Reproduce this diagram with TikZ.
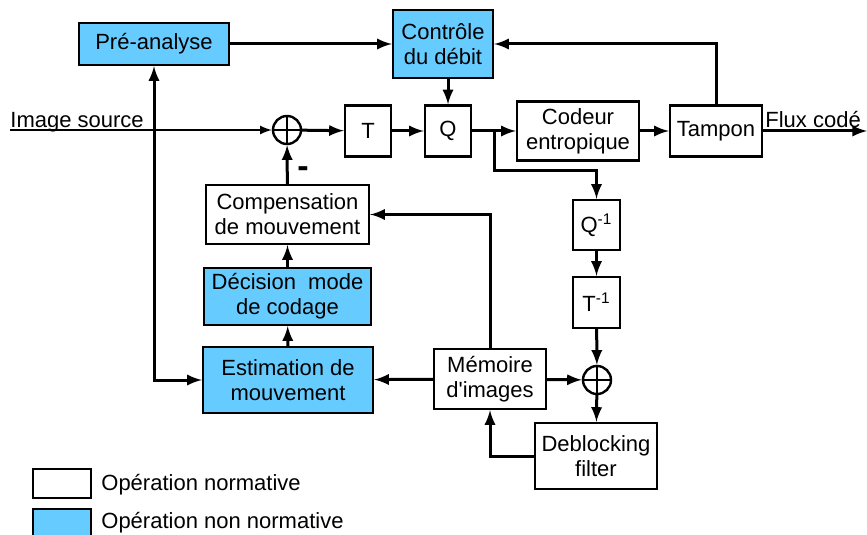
\documentclass[tikz,border=0pt]{standalone}
\usepackage{fontspec}
\setmainfont{Liberation Sans}
\usepackage{xcolor}
\usepackage{tikz}
\usetikzlibrary{arrows,calc}

\definecolor{bleu}{HTML}{66CCFF}

\tikzset{
 norm/.style = {draw, line width = 1.2pt, fill = white, align = center, inner sep = 0pt},
 nonnorm/.style = {norm, fill = bleu},
 somme/.style = {draw, circle, line width = 1.2pt, minimum size = 14pt, inner sep = 0pt,
  path picture = {\draw[line width = 1pt]
   (path picture bounding box.north) -- (path picture bounding box.south)
   (path picture bounding box.west) -- (path picture bounding box.east);}},
 fleche/.style = {-latex, line width = 1.5pt}
}

\begin{document}
\begin{tikzpicture}[x = 0.5pt, y = -0.5pt, font = \fontsize{11}{12.5}\selectfont]

\useasboundingbox (0,0) rectangle (867,535);

\node[nonnorm, minimum width = 75pt, minimum height = 21pt] (pre) at (154,44) {Pré-analyse};
\node[nonnorm, minimum width = 50pt, minimum height = 34pt] (ctrl) at (443,44) {Contrôle\\du débit};

\node[somme] (s1) at (287,130) {};
\node[norm, minimum width = 23pt, minimum height = 25.5pt] (T) at (368,131) {T};
\node[norm, minimum width = 23pt, minimum height = 25.5pt] (Q) at (448,131) {Q};
\node[norm, minimum width = 61pt, minimum height = 29.5pt] (cod) at (578,131) {Codeur\\entropique};
\node[norm, minimum width = 46pt, minimum height = 25.5pt] (tamp) at (716,131) {Tampon};

\node[norm, minimum width = 81.5pt, minimum height = 29.5pt] (comp) at (287.5,214.5) {Compensation\\de mouvement};
\node[nonnorm, minimum width = 83.5pt, minimum height = 28.5pt] (dec) at (287.5,296.5) {Décision\ \ mode\\de codage};
\node[nonnorm, minimum width = 85pt, minimum height = 33pt] (est) at (288,380) {Estimation de\\mouvement};
\node[norm, minimum width = 56pt, minimum height = 30pt] (mem) at (490,379) {Mémoire\\d\textquotesingle images};

\node[norm, minimum width = 23.5pt, minimum height = 25pt] (qi) at (596.5,225) {Q\textsuperscript{-1}};
\node[norm, minimum width = 23.5pt, minimum height = 25.5pt] (ti) at (596.5,302.5) {T\textsuperscript{-1}};
\node[somme] (s2) at (597,380) {};
\node[norm, minimum width = 61pt, minimum height = 33pt] (deb) at (596,456) {Deblocking\\filter};

\node[anchor = base west, inner sep = 0pt] (src-txt) at (10,127) {Image source};
\node[anchor = base west, inner sep = 0pt] (out-txt) at (765,127) {Flux codé};
\node[inner sep = 0pt] (moins) at (303,172) {\fontsize{17}{17}\selectfont\bfseries -};

\coordinate (src) at (10,130);
\coordinate (out) at (867,131);
\coordinate (br) at (494,131);
\coordinate (br2) at (494,170);

\draw[-latex, line width = 1pt] (src) -- (s1);
\draw[fleche] (s1) -- (T);
\draw[fleche] (T) -- (Q);
\draw[fleche] (Q) -- (cod);
\draw[fleche] (cod) -- (tamp);
\draw[fleche] (tamp) -- (out);

\draw[fleche] (pre) -- (ctrl);
\draw[fleche] (ctrl.south -| Q) -- (Q.north);
\draw[fleche] (tamp.north) |- (ctrl.east);

\draw[fleche] (br) -- (br2) -| (qi.north);
\draw[fleche] (qi) -- (ti);
\draw[fleche] (ti) -- (s2);
\draw[fleche] (s2) -- (deb);
\draw[fleche] (mem) -- (s2);
\draw[fleche] (deb.west) -| (mem.south);
\draw[fleche] (mem.north) |- (comp.east);
\draw[fleche] (mem) -- (est);

\draw[fleche] (est) -- (dec);
\draw[fleche] (dec) -- (comp);
\draw[fleche] (comp) -- (s1);
\draw[latex-latex, line width = 1.5pt] (pre.south) |- (est.west);

\node[norm, minimum width = 29pt, minimum height = 14.5pt] (leg-n) at (62,483.5) {};
\node[nonnorm, minimum width = 29pt, minimum height = 16pt] (leg-nn) at (62,525) {};
\node[anchor = west, inner sep = 0pt] (leg-n-txt) at (101,485) {Opération normative};
\node[anchor = west, inner sep = 0pt] (leg-nn-txt) at (101,523) {Opération non normative};

\end{tikzpicture}
\end{document}
